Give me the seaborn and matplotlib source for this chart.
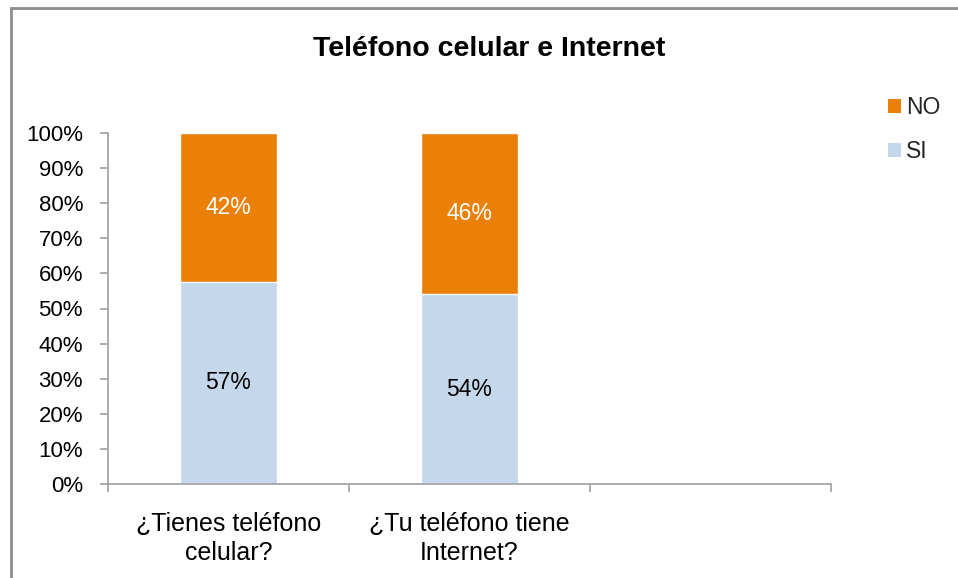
import matplotlib
matplotlib.use("Agg")
import matplotlib.pyplot as plt
import seaborn as sns
import pandas as pd
from matplotlib.patches import Patch, Rectangle

categories = ["¿Tienes teléfono\ncelular?", "¿Tu teléfono tiene\nInternet?"]
si_values = [57, 54]
no_values = [42, 46]
series_names = ["NO", "SI"]
title = "Teléfono celular e Internet"
ytick_values = [0, 10, 20, 30, 40, 50, 60, 70, 80, 90, 100]

c_no = "#EA8008"
c_si = "#C5D7EA"
gray = "#A6A6A6"

sns.set_theme(style="white")
plt.rcParams['font.family'] = ['Liberation Sans', 'DejaVu Sans']

totals = [s + n for s, n in zip(si_values, no_values)]
df = pd.DataFrame({
    "cat": categories,
    "si_pct": [s / t * 100 for s, t in zip(si_values, totals)],
    "top": [100.0 for _ in totals],
})

fig = plt.figure(figsize=(9.58, 5.78), dpi=100)
ax = fig.add_axes([108/958, 1-484/578, (831-108)/958, (484-133)/578])

sns.barplot(data=df, x="cat", y="top", color=c_no, saturation=1, width=0.4, ax=ax)
sns.barplot(data=df, x="cat", y="si_pct", color=c_si, saturation=1, width=0.4, ax=ax)

ax.set_xlim(-0.5, 2.5)
ax.set_ylim(0, 100)
ax.set_xlabel("")
ax.set_ylabel("")

# data labels
for i in range(len(categories)):
    sp = df["si_pct"][i]
    ax.text(i, sp / 2, f"{si_values[i]}%", ha="center", va="center",
            fontsize=16.5, color="black")
    ax.text(i, sp + (100 - sp) / 2, f"{no_values[i]}%", ha="center", va="center",
            fontsize=16.5, color="white")

ax.set_yticks(ytick_values)
ax.set_yticklabels([f"{v}%" for v in ytick_values], fontsize=16, color="black")
ax.set_xticks([-0.5, 0.5, 1.5, 2.5])
ax.set_xticklabels([])
ax.set_xticks([0, 1], minor=True)
ax.set_xticklabels(categories, minor=True, fontsize=18, color="black",
                   linespacing=1.25)
ax.tick_params(axis="x", which="minor", length=0, pad=20)
ax.tick_params(axis="x", which="major", length=6, width=1.3, color=gray, direction="out")
ax.tick_params(axis="y", length=6, width=1.3, color=gray, direction="out", pad=12)
ax.tick_params(bottom=True, left=True)

for s in ["top", "right"]:
    ax.spines[s].set_visible(False)
for s in ["left", "bottom"]:
    ax.spines[s].set_color(gray)
    ax.spines[s].set_linewidth(1.3)

fig.text(489/958, 1-49/578, title, ha="center", va="center",
         fontsize=20.5, fontweight="bold", color="black")

handles = [Patch(facecolor=c_no, edgecolor="none", label=series_names[0]),
           Patch(facecolor=c_si, edgecolor="none", label=series_names[1])]
fig.legend(handles=handles, loc="upper left", bbox_to_anchor=(888/958, 1-96/578),
           frameon=False, fontsize=16.5, handlelength=0.55, handleheight=0.55,
           handletextpad=0.22, labelspacing=0.92, borderaxespad=0, borderpad=0)

# chart area border
fig.patches.append(Rectangle((10.5/958, -0.1), 1.2, 1 - 8/578 + 0.1,
                             transform=fig.transFigure, fill=False,
                             edgecolor="#8C8C8C", linewidth=2))

fig.savefig("out.png", dpi=100)
